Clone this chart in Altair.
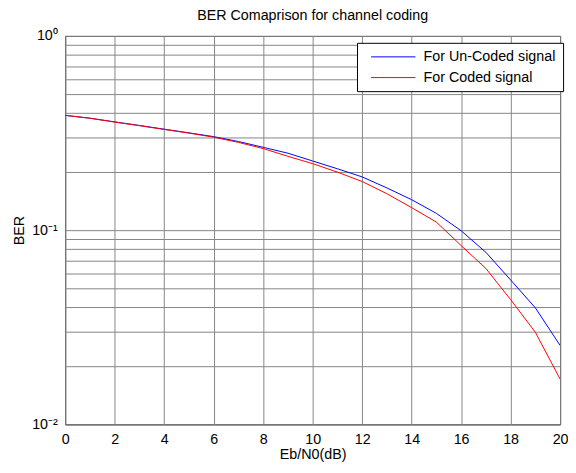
import altair as alt
import pandas as pd

ebn0 = list(range(0, 21))
uncoded = [0.390, 0.377, 0.361, 0.346, 0.331, 0.317, 0.303, 0.286, 0.267, 0.249,
           0.227, 0.207, 0.188, 0.165, 0.1435, 0.122, 0.0993, 0.0769, 0.0554, 0.0398, 0.0255]
coded = [0.390, 0.377, 0.360, 0.345, 0.330, 0.316, 0.301, 0.283, 0.263, 0.240,
         0.220, 0.199, 0.178, 0.154, 0.1306, 0.110, 0.0833, 0.0635, 0.0439, 0.0298, 0.0171]
series_names = ["For Un-Coded signal", "For Coded signal"]
series_colors = ["#0000FF", "#FF0000"]
x_ticks = list(range(0, 21, 2))
y_grid = [m * 10.0 ** e for e in (-2, -1) for m in range(1, 10)] + [1.0]

rows = []
for i, x in enumerate(ebn0):
    rows.append({"x": x, "ber": uncoded[i], "s": series_names[0]})
    rows.append({"x": x, "ber": coded[i], "s": series_names[1]})
df = pd.DataFrame(rows)

FONT = "Liberation Sans"
FS = 14.5

chart = alt.Chart(df).mark_line(strokeWidth=1, clip=True).encode(
    x=alt.X("x:Q", title="Eb/N0(dB)",
            scale=alt.Scale(domain=[0, 20], nice=False),
            axis=alt.Axis(values=x_ticks, format="d", labelFlush=False,
                          labelOverlap=False, tickSize=0, labelPadding=8,
                          titlePadding=2)),
    y=alt.Y("ber:Q", title="BER",
            scale=alt.Scale(type="log", domain=[0.01, 1], nice=False),
            axis=alt.Axis(values=y_grid,
                          labelExpr="datum.value == 1 ? '10⁰' : (abs(datum.value - 0.1) < 1e-9 ? '10⁻¹' : (abs(datum.value - 0.01) < 1e-9 ? '10⁻²' : ''))",
                          labelOverlap=False, labelFlush=False, tickSize=0,
                          labelPadding=8, titlePadding=5)),
    color=alt.Color("s:N", sort=series_names,
                    scale=alt.Scale(domain=series_names, range=series_colors),
                    legend=alt.Legend(title=None, orient="none", legendX=296, legendY=7,
                                      symbolType="M0,0H10", symbolSize=81,
                                      symbolStrokeWidth=1, rowPadding=6,
                                      strokeColor="black", fillColor="white",
                                      padding=7, labelFontSize=FS, labelFont=FONT,
                                      labelColor="black", labelOffset=46,
                                      cornerRadius=0)),
).properties(
    width=502, height=394,
    title=alt.TitleParams("BER Comaprison for channel coding", fontSize=FS,
                          fontWeight="normal", font=FONT, color="black",
                          offset=5),
    autosize=alt.AutoSizeParams(type="none"),
    padding={"left": 58, "top": 25, "right": 8, "bottom": 46},
).configure_view(
    stroke="black", strokeWidth=1
).configure_axis(
    grid=True, gridColor="#858585", gridWidth=1, domain=False,
    labelFont=FONT, titleFont=FONT, labelFontSize=FS, titleFontSize=FS,
    labelColor="black", titleColor="black", titleFontWeight="normal",
)

chart.save("out.html", embed_options={"renderer": "svg", "actions": False})
